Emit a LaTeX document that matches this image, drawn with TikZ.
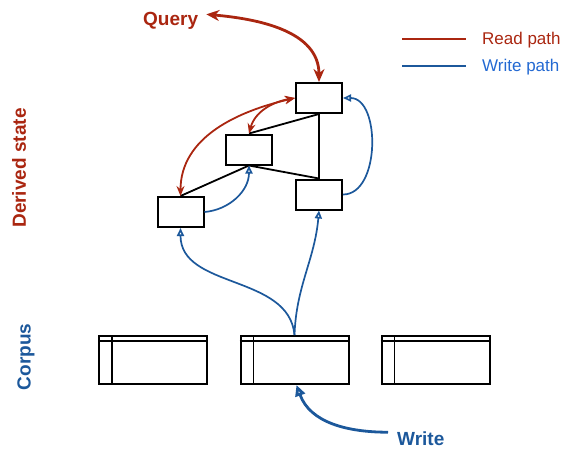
\documentclass[tikz,border=0pt]{standalone}
\usepackage{fontspec}
\setmainfont{Liberation Sans}
\usetikzlibrary{arrows.meta}
\definecolor{rd}{RGB}{170,38,16}
\definecolor{bl}{RGB}{28,88,155}
\definecolor{blt}{RGB}{35,105,210}
\tikzset{
  statebox/.style={draw=black,line width=2pt,minimum width=46pt,minimum height=30pt,inner sep=0pt},
  corpbox/.style={draw=black,line width=2pt,minimum width=108pt,minimum height=48pt,inner sep=0pt},
  edge/.style={black,line width=1.8pt},
  readarr/.style={rd,line width=1.8pt,{Stealth[length=10pt,width=8pt]}-{Stealth[length=10pt,width=8pt]}},
  writearr/.style={bl,line width=1.7pt,-{Triangle[open,length=8pt,width=7pt]}},
  biglbl/.style={font=\fontsize{19}{22}\selectfont\bfseries,inner sep=0pt},
  leglbl/.style={font=\fontsize{17}{20}\selectfont,inner sep=0pt,anchor=west}
}
\begin{document}
\begin{tikzpicture}[x=1pt,y=1pt]
\useasboundingbox (0,0) rectangle (562,-448);
% derived state boxes
\node[statebox] (A) at (319,-98) {};
\node[statebox] (B) at (249,-149.5) {};
\node[statebox] (C) at (319,-194.5) {};
\node[statebox] (D) at (180.5,-212) {};
\draw[edge] (A.south) -- (B.north);
\draw[edge] (A.south) -- (C.north);
\draw[edge] (B.south) -- (C.north);
\draw[edge] (B.south) -- (D.north);
% corpus boxes
\foreach \n/\x in {P1/153,P2/294.5,P3/435.5}{
  \node[corpbox] (\n) at (\x,-360) {};
  \draw[line width=1.2pt] ([yshift=-6pt]\n.north west) -- ([yshift=-6pt]\n.north east);
  \draw[line width=1.2pt] ([xshift=14pt]\n.north west) -- ([xshift=14pt]\n.south west);
}
% labels
\node[biglbl,rd,anchor=base west] (Q) at (143,-25) {Query};
\node[biglbl,bl,anchor=base west] (W) at (397,-445) {Write};
\node[biglbl,rd,rotate=90] (DS) at (19,-168) {Derived state};
\node[biglbl,bl,rotate=90] (CP) at (26,-357) {Corpus};
% legend
\coordinate (r1) at (402,-39);
\coordinate (r2) at (466,-39);
\coordinate (b1) at (402,-66);
\coordinate (b2) at (466,-66);
\draw[rd,line width=2.2pt] (r1) -- (r2);
\draw[bl,line width=2.2pt] (b1) -- (b2);
\node[leglbl,rd] (RL) at (482,-40) {Read path};
\node[leglbl,blt] (WL) at (482,-67) {Write path};
% read arrows
\draw[rd,line width=2.8pt,{Stealth[length=13pt,width=11pt]}-{Stealth[length=13pt,width=11pt]}]
  ([xshift=8pt,yshift=6pt]Q.east) to[out=-5,in=90] (A.north);
\draw[readarr] (A.west) to[out=190,in=75] (B.north);
\draw[readarr] (A.west) to[out=193,in=90] (D.north);
% write arrows
\draw[writearr] (D.east) to[out=5,in=-90] (B.south);
\draw[writearr] (C.east) to[out=0,in=0,looseness=1.0] (A.east);
\draw[writearr] (P2.north) to[out=95,in=-90] (D.south);
\draw[writearr] (P2.north) to[out=88,in=-95] (C.south);
\draw[bl,line width=2.8pt,-{Triangle[open,length=11pt,width=10pt]}]
  ([xshift=-9pt,yshift=6pt]W.west) to[out=180,in=-70] ([xshift=2pt]P2.south);
\end{tikzpicture}
\end{document}
